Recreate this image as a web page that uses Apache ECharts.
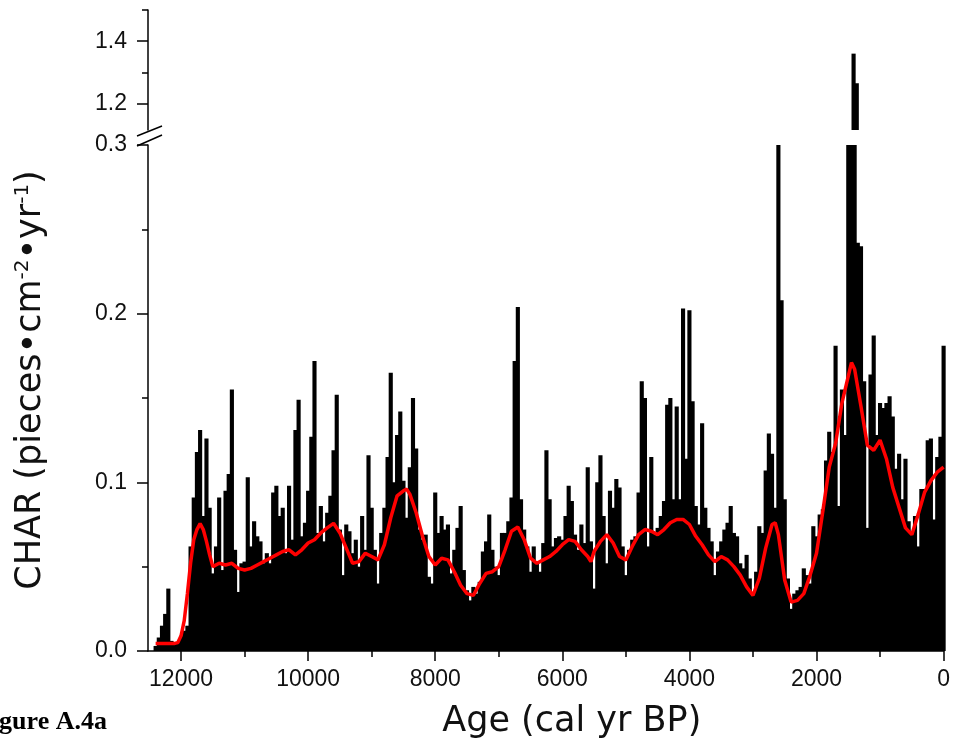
<!DOCTYPE html>
<html><head><meta charset="utf-8">
<script src="https://cdn.jsdelivr.net/npm/echarts@6/dist/echarts.min.js"></script>
<style>html,body{margin:0;padding:0;background:#fff}#c{width:953px;height:753px}</style>
</head><body><div id="c"></div>
<script>
// Sampling grid of the charcoal record (cal yr BP), oldest first
const ageStart = 12400;
const ageStep = 50;

// CHAR values (pieces cm^-2 yr^-1), one per 50-yr bin from 12400 down to 0
const charValues = [
  // 12400 - 12050
  0.003, 0.008, 0.015, 0.022, 0.037, 0.006, 0.004, 0.005,
  // 12000 - 11050
  0.009, 0.012, 0.015, 0.062, 0.091, 0.118, 0.131, 0.080, 0.126, 0.085,
  0.046, 0.062, 0.091, 0.048, 0.095, 0.105, 0.155, 0.060, 0.035, 0.052,
  // 11000 - 10050
  0.053, 0.103, 0.062, 0.077, 0.068, 0.065, 0.052, 0.058, 0.052, 0.094,
  0.098, 0.080, 0.085, 0.058, 0.098, 0.066, 0.131, 0.149, 0.068, 0.076,
  // 10000 - 9050
  0.095, 0.127, 0.172, 0.070, 0.086, 0.065, 0.082, 0.092, 0.119, 0.152,
  0.072, 0.045, 0.075, 0.071, 0.058, 0.066, 0.050, 0.080, 0.060, 0.116,
  // 9000 - 8050
  0.085, 0.060, 0.040, 0.070, 0.085, 0.115, 0.165, 0.100, 0.128, 0.142,
  0.101, 0.079, 0.109, 0.150, 0.120, 0.072, 0.066, 0.069, 0.044, 0.040,
  // 8000 - 7050
  0.094, 0.070, 0.080, 0.072, 0.075, 0.046, 0.060, 0.073, 0.086, 0.048,
  0.036, 0.030, 0.038, 0.034, 0.041, 0.059, 0.065, 0.081, 0.060, 0.050,
  // 7000 - 6050
  0.045, 0.070, 0.070, 0.077, 0.091, 0.172, 0.204, 0.090, 0.072, 0.062,
  0.047, 0.062, 0.053, 0.047, 0.064, 0.119, 0.090, 0.062, 0.067, 0.068,
  // 6000 - 5050
  0.066, 0.080, 0.098, 0.089, 0.069, 0.060, 0.075, 0.064, 0.109, 0.065,
  0.037, 0.100, 0.116, 0.080, 0.052, 0.095, 0.085, 0.102, 0.097, 0.062,
  // 5000 - 4050
  0.045, 0.060, 0.066, 0.068, 0.094, 0.160, 0.150, 0.062, 0.115, 0.070,
  0.073, 0.080, 0.089, 0.146, 0.150, 0.090, 0.145, 0.090, 0.203, 0.114,
  // 4000 - 3050
  0.202, 0.148, 0.086, 0.075, 0.135, 0.085, 0.073, 0.065, 0.045, 0.059,
  0.065, 0.072, 0.076, 0.086, 0.070, 0.068, 0.052, 0.049, 0.057, 0.043,
  // 3000 - 2050
  0.035, 0.047, 0.074, 0.070, 0.107, 0.129, 0.117, 0.085, 0.302, 0.208,
  0.090, 0.043, 0.025, 0.034, 0.036, 0.038, 0.049, 0.045, 0.040, 0.074,
  // 2000 - 1050
  0.068, 0.081, 0.084, 0.113, 0.130, 0.118, 0.181, 0.086, 0.155, 0.128,
  0.310, 1.360, 1.265, 0.242, 0.240, 0.160, 0.073, 0.164, 0.187, 0.128,
  // 1000 - 50
  0.147, 0.144, 0.147, 0.151, 0.139, 0.108, 0.117, 0.090, 0.114, 0.077,
  0.069, 0.080, 0.062, 0.096, 0.096, 0.125, 0.126, 0.078, 0.115, 0.127,
  // 0
  0.181
];

// Smoothed background CHAR (red curve)
const smoothAges = [12400, 12300, 12200, 12100, 12050, 12000, 11950, 11900, 11850, 11800,
  11750, 11700, 11650, 11600, 11550, 11500, 11400, 11300, 11200, 11100,
  11000, 10900, 10800, 10700, 10600, 10500, 10400, 10300, 10200, 10100,
  10000, 9900, 9800, 9700, 9600, 9500, 9400, 9300, 9200, 9100,
  9000, 8900, 8800, 8700, 8600, 8500, 8450, 8400, 8300, 8200,
  8100, 8000, 7900, 7800, 7700, 7600, 7500, 7400, 7300, 7200,
  7100, 7000, 6900, 6800, 6700, 6600, 6500, 6400, 6300, 6200,
  6100, 6000, 5900, 5800, 5700, 5600, 5550, 5500, 5400, 5300,
  5200, 5100, 5000, 4900, 4800, 4700, 4600, 4500, 4400, 4300,
  4200, 4100, 4000, 3900, 3800, 3700, 3600, 3500, 3400, 3300,
  3200, 3100, 3000, 2900, 2800, 2700, 2650, 2600, 2500, 2400,
  2300, 2200, 2100, 2000, 1900, 1800, 1700, 1600, 1500, 1450,
  1400, 1300, 1200, 1100, 1000, 900, 800, 700, 600, 500,
  400, 300, 200, 100, 0];
const smoothValues = [0.0045, 0.0045, 0.0045, 0.0045, 0.005, 0.009, 0.018, 0.034, 0.052, 0.066,
  0.072, 0.0755, 0.072, 0.065, 0.057, 0.050, 0.052, 0.051, 0.052, 0.049,
  0.048, 0.049, 0.051, 0.053, 0.055, 0.057, 0.059, 0.060, 0.057, 0.060,
  0.064, 0.066, 0.070, 0.073, 0.0757, 0.070, 0.061, 0.052, 0.053, 0.058,
  0.056, 0.054, 0.063, 0.079, 0.092, 0.095, 0.096, 0.093, 0.082, 0.068,
  0.056, 0.051, 0.055, 0.054, 0.047, 0.039, 0.034, 0.033, 0.040, 0.046,
  0.047, 0.050, 0.060, 0.071, 0.0735, 0.066, 0.055, 0.052, 0.054, 0.056,
  0.059, 0.063, 0.066, 0.065, 0.060, 0.056, 0.053, 0.059, 0.065, 0.069,
  0.064, 0.056, 0.054, 0.062, 0.069, 0.072, 0.071, 0.069, 0.072, 0.076,
  0.078, 0.078, 0.075, 0.068, 0.063, 0.057, 0.053, 0.056, 0.054, 0.050,
  0.045, 0.038, 0.033, 0.043, 0.061, 0.075, 0.076, 0.069, 0.042, 0.029,
  0.030, 0.034, 0.045, 0.058, 0.083, 0.109, 0.123, 0.147, 0.163, 0.171,
  0.167, 0.145, 0.122, 0.119, 0.125, 0.114, 0.097, 0.085, 0.073, 0.069,
  0.081, 0.094, 0.101, 0.106, 0.109];

// Tick positions / labels
const xMajorTicks = [0, 2000, 4000, 6000, 8000, 10000, 12000];
const xMinorTicks = [1000, 3000, 5000, 7000, 9000, 11000];
const yUpperMajor = [1.2, 1.4];
const yUpperMinor = [1.3, 1.5];

const ages = charValues.map((_, i) => ageStart - i * ageStep);
const lowerData = ages.map((a, i) => [a, charValues[i]]);
const upperData = ages.map((a, i) => [a, charValues[i] > 1 ? charValues[i] : '-']);
const smoothData = smoothAges.map((a, i) => [a, smoothValues[i]]);

const FONT = "'Liberation Sans', Arial, Helvetica, sans-serif";
const TITLE_FONT = "'DejaVu Sans', 'Liberation Sans', Arial, sans-serif";
const black = '#000';
const tickStyle = { color: black, width: 1.5 };
const X_MAX = 12520;

const chart = echarts.init(document.getElementById('c'), null, { renderer: 'canvas' });
chart.setOption({
  animation: false,
  backgroundColor: '#fff',
  grid: [
    { left: 148, right: 7, top: 145, height: 506 },
    { left: 148, right: 7, top: 10, height: 120 }
  ],
  xAxis: [
    {
      gridIndex: 0, type: 'value', min: 0, max: X_MAX, inverse: true, position: 'bottom',
      axisLine: { show: true, onZero: false, lineStyle: { color: black, width: 1.5 } },
      axisTick: { show: true, length: 10, lineStyle: tickStyle, customValues: xMajorTicks },
      axisLabel: { show: true, customValues: xMajorTicks, fontSize: 23, color: '#111', fontFamily: FONT, margin: 17, formatter: v => String(v) },
      splitLine: { show: false },
      name: 'Age (cal yr BP)', nameLocation: 'middle', nameGap: 53,
      nameTextStyle: { fontSize: 35, fontFamily: TITLE_FONT, color: '#111', padding: [0, 0, 0, 52] }
    },
    {
      gridIndex: 0, type: 'value', min: 0, max: X_MAX, inverse: true, position: 'bottom',
      axisLine: { show: false, onZero: false },
      axisTick: { show: true, length: 6, lineStyle: tickStyle, customValues: xMinorTicks },
      axisLabel: { show: false }, splitLine: { show: false }
    },
    { gridIndex: 1, type: 'value', min: 0, max: X_MAX, inverse: true, show: false }
  ],
  yAxis: [
    {
      gridIndex: 0, type: 'value', min: 0, max: 0.3, interval: 0.1, position: 'left',
      axisLine: { show: true, onZero: false, lineStyle: { color: black, width: 1.5 } },
      axisTick: { show: true, length: 11, lineStyle: tickStyle },
      minorTick: { show: true, splitNumber: 2, length: 6, lineStyle: tickStyle },
      axisLabel: { fontSize: 23, color: '#111', fontFamily: FONT, margin: 21, formatter: v => v.toFixed(1) },
      splitLine: { show: false }, minorSplitLine: { show: false },
      name: 'CHAR (pieces•cm{sup|-2}•yr{sup|-1})', nameLocation: 'middle', nameGap: 100,
      nameTextStyle: {
        fontSize: 35, fontFamily: TITLE_FONT, color: '#111', padding: [0, 0, 0, 36],
        rich: { sup: { fontSize: 20, fontFamily: TITLE_FONT, color: '#111', verticalAlign: 'top', lineHeight: 35 } }
      }
    },
    {
      gridIndex: 1, type: 'value', min: 1.115, max: 1.5, position: 'left',
      axisLine: { show: true, onZero: false, lineStyle: { color: black, width: 1.5 } },
      axisTick: { show: true, length: 11, lineStyle: tickStyle, customValues: yUpperMajor },
      axisLabel: { show: true, customValues: yUpperMajor, fontSize: 23, color: '#111', fontFamily: FONT, margin: 21, formatter: v => v.toFixed(1) },
      splitLine: { show: false }
    },
    {
      gridIndex: 1, type: 'value', min: 1.115, max: 1.5, position: 'left',
      axisLine: { show: false, onZero: false },
      axisTick: { show: true, length: 6, lineStyle: tickStyle, customValues: yUpperMinor },
      axisLabel: { show: false }, splitLine: { show: false }
    }
  ],
  series: [
    {
      type: 'bar', xAxisIndex: 0, yAxisIndex: 0, data: lowerData, clip: true,
      barWidth: '130%', itemStyle: { color: black },
      silent: true, z: 2
    },
    {
      type: 'bar', xAxisIndex: 2, yAxisIndex: 1, data: upperData, clip: true,
      barWidth: '130%', itemStyle: { color: black },
      silent: true, z: 2
    },
    {
      type: 'line', xAxisIndex: 0, yAxisIndex: 0, data: smoothData,
      symbol: 'none', lineStyle: { color: '#ff0000', width: 3.5 }, z: 5, silent: true
    }
  ],
  graphic: [
    { type: 'line', shape: { x1: 137, y1: 136, x2: 162, y2: 126 }, style: { stroke: black, lineWidth: 1.5 }, z: 100 },
    { type: 'line', shape: { x1: 137, y1: 146, x2: 162, y2: 135 }, style: { stroke: black, lineWidth: 1.5 }, z: 100 },
    { type: 'text', x: -24, y: 709, style: { text: 'Figure A.4a', font: "bold 26px 'Liberation Serif', 'Times New Roman', serif", fill: black, verticalAlign: 'top' }, z: 100 }
  ]
});
</script>
</body></html>
